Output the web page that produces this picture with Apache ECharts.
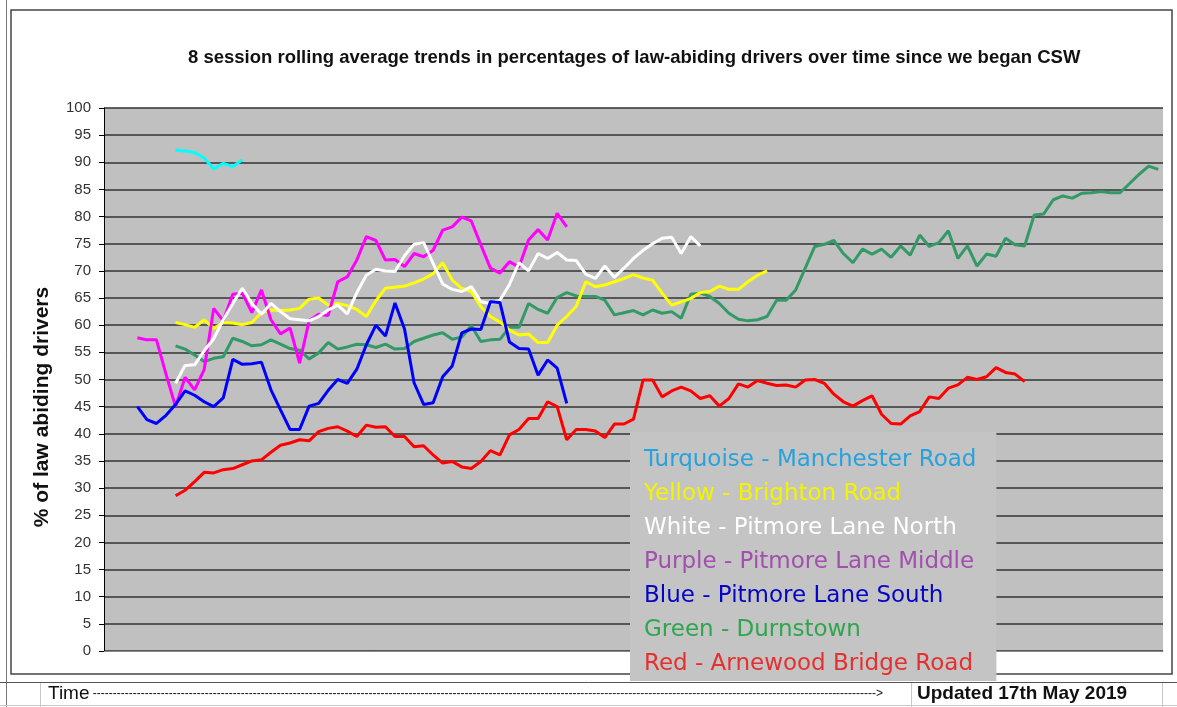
<!DOCTYPE html>
<html lang="en">
<head>
<meta charset="utf-8">
<title>CSW rolling averages</title>
<script src="https://cdn.jsdelivr.net/npm/echarts@6/dist/echarts.min.js"></script>
<style>
  html, body { margin: 0; padding: 0; background: #fff; }
  #chart { width: 1177px; height: 707px; }
</style>
</head>
<body>
<div id="chart"></div>
<script>
// sessions along the time axis (no labels shown on the chart)
var sessionCount = 111;
var sessions = [];
for (var i = 1; i <= sessionCount; i++) sessions.push('Session ' + i);

// y axis ticks
var yMin = 0, yMax = 100, yStep = 5;

// each road: first session index + its 8-session rolling averages (%)
var turquoiseStart = 7;
var turquoise = [92.2, 92.1, 91.8, 90.8, 88.8, 89.8, 89.2, 90.5];

var yellowStart = 7;
var yellow = [60.5, 60.1, 59.6, 61.0, 59.4, 60.5, 60.4, 60.1, 60.5, 62.3,
  62.8, 62.7, 62.8, 63.1, 64.8, 65.0, 63.7, 64.0, 63.6, 62.9,
  61.6, 64.5, 66.8, 67.0, 67.2, 67.8, 68.5, 69.5, 71.5, 68.3,
  66.8, 66.2, 63.4, 61.6, 60.6, 59.1, 58.2, 58.4, 56.8, 56.8,
  60.0, 61.6, 63.5, 68.0, 67.1, 67.4, 68.0, 68.6, 69.3, 68.7,
  68.3, 65.9, 63.7, 64.3, 64.9, 66.0, 66.2, 67.2, 66.6, 66.6,
  68.0, 69.2, 70.0];

var whiteStart = 7;
var white = [49.3, 52.6, 52.7, 55.3, 57.5, 61.0, 64.0, 66.8, 64.0, 62.0,
  64.0, 62.5, 61.2, 61.0, 60.8, 61.6, 62.8, 63.7, 62.1, 66.0,
  69.2, 70.3, 70.0, 69.9, 72.8, 74.9, 75.2, 71.4, 67.6, 66.6,
  66.2, 67.1, 64.3, 64.0, 64.6, 67.5, 71.5, 70.0, 73.2, 72.3,
  73.4, 72.0, 71.9, 69.4, 68.6, 70.9, 68.8, 70.5, 72.3, 73.8,
  75.0, 76.0, 76.2, 73.2, 76.3, 74.6];

var purpleStart = 3;
var purple = [57.7, 57.3, 57.3, 51.0, 45.0, 50.4, 48.1, 51.8, 63.1, 60.8,
  65.7, 65.9, 62.3, 66.5, 61.0, 58.4, 59.5, 53.0, 60.8, 62.0,
  61.8, 68.0, 68.9, 72.0, 76.3, 75.6, 72.0, 72.1, 70.8, 73.2,
  72.6, 73.8, 77.5, 78.1, 79.9, 79.2, 74.8, 70.5, 69.6, 71.7,
  70.7, 75.7, 77.6, 75.7, 80.6, 78.1];

var blueStart = 3;
var blue = [45.0, 42.6, 41.9, 43.4, 45.4, 47.9, 47.1, 45.9, 45.0, 46.6,
  53.7, 52.8, 52.9, 53.2, 48.1, 44.4, 40.8, 40.8, 45.1, 45.6,
  48.0, 50.0, 49.3, 51.9, 56.4, 60.0, 58.0, 64.1, 59.3, 49.4,
  45.4, 45.7, 50.5, 52.5, 58.6, 59.3, 59.2, 64.3, 64.2, 56.9,
  55.7, 55.6, 50.8, 53.6, 52.1, 45.6];

var greenStart = 7;
var green = [56.2, 55.6, 54.5, 53.3, 53.9, 54.2, 57.6, 57.0, 56.2, 56.4,
  57.3, 56.5, 55.7, 55.4, 53.8, 54.9, 56.8, 55.6, 56.0, 56.5,
  56.4, 55.9, 56.5, 55.6, 55.7, 57.0, 57.6, 58.2, 58.6, 57.4,
  57.8, 59.9, 57.0, 57.3, 57.4, 59.6, 59.6, 64.0, 62.9, 62.2,
  65.1, 66.0, 65.4, 65.3, 65.3, 64.6, 61.9, 62.3, 62.7, 61.9,
  62.8, 62.2, 62.5, 61.3, 65.7, 65.9, 65.3, 64.0, 62.2, 61.1,
  60.8, 61.0, 61.6, 64.6, 64.6, 66.5, 70.5, 74.5, 74.9, 75.6,
  73.2, 71.5, 74.0, 73.1, 74.0, 72.5, 74.6, 72.9, 76.6, 74.5,
  75.2, 77.4, 72.3, 74.6, 70.9, 73.1, 72.7, 76.0, 74.8, 74.6,
  80.3, 80.5, 83.1, 83.8, 83.4, 84.3, 84.4, 84.6, 84.4, 84.4,
  86.1, 87.8, 89.3, 88.7];

var redStart = 7;
var red = [28.6, 29.6, 31.2, 32.9, 32.8, 33.4, 33.6, 34.3, 35.0, 35.2,
  36.6, 37.9, 38.3, 38.9, 38.7, 40.4, 41.0, 41.3, 40.5, 39.5,
  41.6, 41.2, 41.3, 39.5, 39.5, 37.6, 37.8, 36.1, 34.6, 34.9,
  33.9, 33.6, 34.9, 36.9, 36.1, 39.8, 40.8, 42.8, 42.8, 45.9,
  45.0, 38.9, 40.8, 40.8, 40.5, 39.3, 41.8, 41.8, 42.7, 49.9,
  49.9, 46.8, 47.9, 48.6, 47.9, 46.5, 47.0, 45.1, 46.5, 49.2,
  48.6, 49.8, 49.3, 48.9, 49.0, 48.6, 49.9, 50.0, 49.3, 47.3,
  45.9, 45.1, 46.1, 47.0, 43.6, 41.9, 41.8, 43.3, 44.1, 46.8,
  46.5, 48.4, 49.0, 50.4, 50.0, 50.5, 52.2, 51.3, 51.0, 49.6];

// legend box texts, in the order of the text box
var legendNames = [
  'Turquoise - Manchester Road',
  'Yellow - Brighton Road',
  'White - Pitmore Lane North',
  'Purple - Pitmore Lane Middle',
  'Blue - Pitmore Lane South',
  'Green - Durnstown',
  'Red - Arnewood Bridge Road'
];
var legendColors = ['#27a2dd', '#f4f400', '#ffffff', '#a24fae', '#0505c4', '#2fa64e', '#e5302f'];

// put a road's values on the full session axis
function pad(start, values) {
  var out = [];
  for (var k = 0; k < sessionCount; k++) {
    var v = values[k - start];
    out.push(v === undefined ? null : v);
  }
  return out;
}

function road(name, color, start, values) {
  return {
    name: name,
    type: 'line',
    data: pad(start, values),
    symbol: 'none',
    lineStyle: { color: color, width: 3 },
    itemStyle: { color: color },
    connectNulls: false,
    silent: true
  };
}

var chart = echarts.init(document.getElementById('chart'));

var option = {
  animation: false,
  backgroundColor: '#ffffff',
  title: {
    text: '8 session rolling average trends in percentages of law-abiding drivers over time since we began CSW',
    left: 183,
    top: 43,
    textStyle: { fontFamily: 'Liberation Sans', fontSize: 18.5, fontWeight: 'bold', color: '#111' }
  },
  grid: {
    left: 104, right: 14, top: 108, bottom: 56,
    show: true, backgroundColor: '#c0c0c0', borderWidth: 0
  },
  legend: {
    orient: 'vertical',
    left: 630,
    top: 432,
    selectedMode: false,
    backgroundColor: '#c4c4c4',
    padding: [17, 20, 5, 8],
    itemWidth: 0,
    itemHeight: 0,
    itemGap: 11,
    itemStyle: { opacity: 0 },
    lineStyle: { opacity: 0 },
    textStyle: { fontFamily: 'DejaVu Sans', fontSize: 23, lineHeight: 23 },
    data: legendNames.map(function (n, k) {
      return { name: n, textStyle: { color: legendColors[k] } };
    })
  },
  xAxis: {
    type: 'category',
    data: sessions,
    boundaryGap: true,
    axisLine: { show: true, lineStyle: { color: '#8a8a8a' } },
    axisTick: { show: false },
    axisLabel: { show: false },
    splitLine: { show: false }
  },
  yAxis: {
    type: 'value',
    min: yMin, max: yMax, interval: yStep,
    name: '% of law abiding drivers',
    nameLocation: 'middle',
    nameGap: 51,
    nameTextStyle: {
      fontFamily: 'Liberation Sans', fontSize: 21, fontWeight: 'bold', color: '#111',
      padding: [0, 55, 0, 0]
    },
    axisLine: { show: true, lineStyle: { color: '#000', width: 1 } },
    axisTick: { show: true, length: 5, lineStyle: { color: '#000' } },
    axisLabel: { fontFamily: 'Liberation Sans', fontSize: 15, color: '#333', margin: 13 },
    splitLine: { show: true, lineStyle: { color: '#333', width: 1.5 } }
  },
  series: [
    road(legendNames[6], '#ff0000', redStart, red),
    road(legendNames[5], '#339966', greenStart, green),
    road(legendNames[0], '#00ffff', turquoiseStart, turquoise),
    road(legendNames[1], '#ffff00', yellowStart, yellow),
    road(legendNames[3], '#ff00ff', purpleStart, purple),
    road(legendNames[2], '#ffffff', whiteStart, white),
    road(legendNames[4], '#0000ff', blueStart, blue)
  ],
  graphic: [
    // chart frame and the spreadsheet round it
    { type: 'line', z: 1, shape: { x1: 6.5, y1: 0, x2: 6.5, y2: 707 }, style: { stroke: '#777', lineWidth: 1 } },
    { type: 'rect', z: 1, shape: { x: 11, y: 10, width: 1161, height: 664 },
      style: { fill: 'rgba(0,0,0,0)', stroke: '#454545', lineWidth: 1.5 } },
    { type: 'line', z: 1, shape: { x1: 0, y1: 682.5, x2: 1177, y2: 682.5 }, style: { stroke: '#555', lineWidth: 1 } },
    { type: 'line', z: 1, shape: { x1: 0, y1: 705.5, x2: 1177, y2: 705.5 }, style: { stroke: '#c8c8c8', lineWidth: 1 } },
    { type: 'line', z: 1, shape: { x1: 40.5, y1: 683, x2: 40.5, y2: 707 }, style: { stroke: '#c8c8c8', lineWidth: 1 } },
    { type: 'line', z: 1, shape: { x1: 911.5, y1: 683, x2: 911.5, y2: 707 }, style: { stroke: '#c8c8c8', lineWidth: 1 } },
    { type: 'line', z: 1, shape: { x1: 1162.5, y1: 683, x2: 1162.5, y2: 707 }, style: { stroke: '#c8c8c8', lineWidth: 1 } },
    {
      type: 'text', z: 1, x: 48, y: 694,
      style: {
        text: '{t|Time} {d|' + new Array(197).join('-') + '>}',
        verticalAlign: 'middle',
        rich: {
          t: { fontFamily: 'Liberation Sans', fontSize: 19, fill: '#111' },
          d: { fontFamily: 'Liberation Sans', fontSize: 12, fill: '#111' }
        }
      }
    },
    {
      type: 'text', z: 1, x: 917, y: 694,
      style: {
        text: 'Updated 17th May 2019',
        fontFamily: 'Liberation Sans', fontSize: 19, fontWeight: 'bold', fill: '#111',
        verticalAlign: 'middle'
      }
    }
  ]
};

chart.setOption(option);
window.onresize = chart.resize;
</script>
</body>
</html>
